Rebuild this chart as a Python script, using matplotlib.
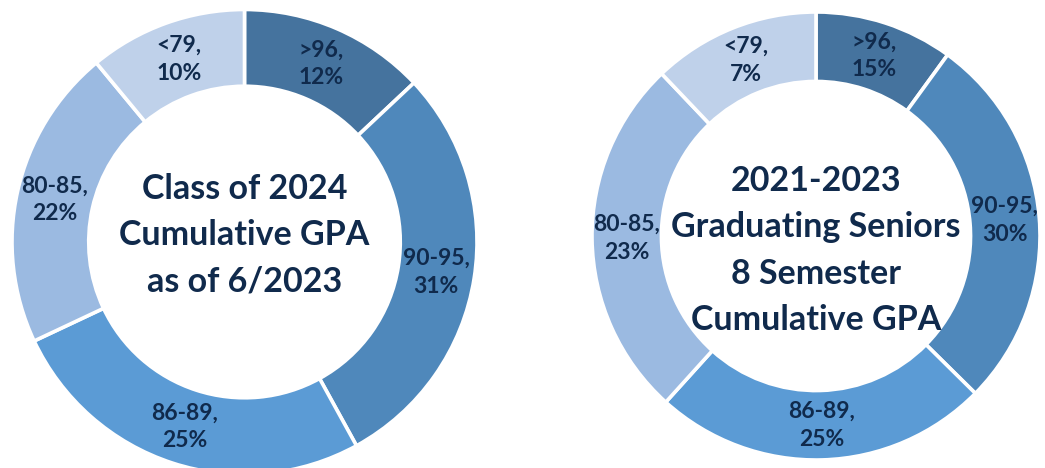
import matplotlib.pyplot as plt

plt.rcParams['font.family'] = ['Lato', 'DejaVu Sans']

# categories, clockwise from the top
groups = ['>96', '90-95', '86-89', '80-85', '<79']

# printed percentages
left_pct = [12, 31, 25, 22, 10]
right_pct = [15, 30, 25, 23, 7]

# slice shares as drawn in the picture (the printed labels do not match the arcs exactly)
left_share = [13, 29, 26, 21, 11]
right_share = [10, 27.4, 24.3, 26.2, 12.1]

left_title = 'Class of 2024\nCumulative GPA\nas of 6/2023'
right_title = '2021-2023\nGraduating Seniors\n8 Semester\nCumulative GPA'

colors = ['#45739E', '#4F88BB', '#5B9BD5', '#9BBAE1', '#BFD1EA']
txt_col = '#102A4C'

fig = plt.figure(figsize=(10.45, 4.68), dpi=100)


def donut(rect, shares, pct, title, width, title_y):
    ax = fig.add_axes(rect)
    labels = [g + ',\n' + str(p) + '%' for g, p in zip(groups, pct)]
    wedges, texts = ax.pie(shares, labels=labels, colors=colors, startangle=90,
                           counterclock=False, radius=1,
                           labeldistance=1 - width / 2,
                           wedgeprops=dict(width=width, edgecolor='white', linewidth=2.6),
                           textprops=dict(color=txt_col, fontsize=16.5, fontweight='bold'))
    for t in texts:
        t.set_horizontalalignment('center')
        t.set_verticalalignment('center')
        t.set_linespacing(1.4)
    ax.text(0, title_y, title, ha='center', va='center', color=txt_col,
            fontsize=24.5, fontweight='bold', linespacing=1.55)
    ax.set_xlim(-1, 1)
    ax.set_ylim(-1, 1)
    ax.set_aspect('auto')
    ax.axis('off')
    return ax


donut([12 / 1045, -6.5 / 468, 465 / 1045, 465 / 468], left_share, left_pct,
      left_title, 0.33, 0.03)
donut([592 / 1045, 8 / 468, 448 / 1045, 448 / 468], right_share, right_pct,
      right_title, 0.31, -0.065)

fig.savefig('out.png', dpi=100)
